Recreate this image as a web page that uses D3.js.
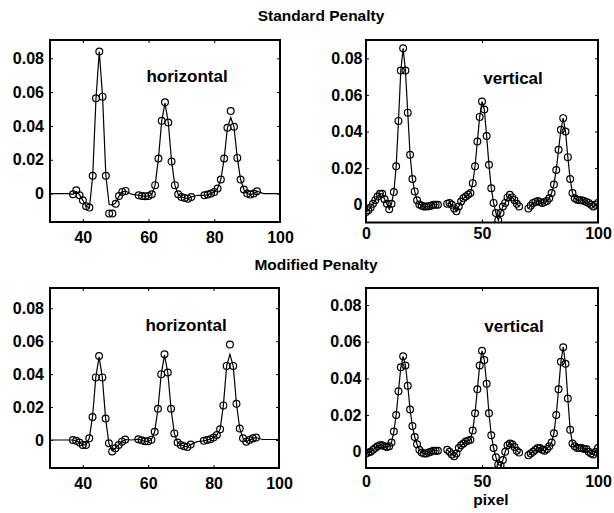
<!DOCTYPE html>
<html>
<head>
<meta charset="utf-8">
<script src="https://cdn.jsdelivr.net/npm/d3@7"></script>
<style>
  body { margin: 0; background: #fff; }
  text { font-family: "Liberation Sans", Arial, Helvetica, sans-serif; font-weight: bold; fill: #000; }
</style>
</head>
<body>
<script>
// pixel index where each run of measured points starts
let horizStarts = [37, 57, 77];
let vertStarts  = [0, 35, 70];

// Standard penalty, horizontal profile (circles)
let stdHorizY = [
  [-0.0004, 0.002, -0.001, -0.004, -0.0075, -0.0083, 0.0105, 0.0563, 0.084, 0.0573, 0.0105, -0.0118, -0.0118, -0.006, -0.0014, 0.001, 0.0016],
  [-0.001, -0.0014, -0.0016, -0.0014, -0.0004, 0.005, 0.0207, 0.043, 0.054, 0.042, 0.019, 0.005, -0.0004, -0.002, -0.0026, -0.003, -0.002],
  [-0.001, -0.0006, 0, 0.001, 0.003, 0.0083, 0.0207, 0.0389, 0.0488, 0.0395, 0.0211, 0.0083, 0.0024, 0, -0.0006, 0, 0.0014]
];
// fitted curve knots for the horizontal panels
let horizFitX = [30, 36, 37, 38, 39, 40, 41, 42, 43, 44, 45, 46, 47, 48, 49, 50, 51, 52, 53, 55,
  57, 58, 59, 60, 61, 62, 63, 64, 65, 66, 67, 68, 69, 70, 71, 72, 73, 75,
  77, 78, 79, 80, 81, 82, 83, 84, 85, 86, 87, 88, 89, 90, 91, 92, 93, 95, 100];
let stdHorizFitY = [0, 0, -0.0005, 0.0012, -0.0008, -0.004, -0.0075, -0.0083, 0.0105, 0.0563, 0.084, 0.0573, 0.0105, -0.0065, -0.0068, -0.0055, -0.0015, 0.001, 0.0015, -0.0005,
  -0.001, -0.0014, -0.0016, -0.0014, -0.0004, 0.005, 0.0207, 0.043, 0.0535, 0.042, 0.019, 0.005, -0.0004, -0.002, -0.0026, -0.003, -0.002, -0.001,
  -0.001, -0.0006, 0, 0.001, 0.003, 0.0083, 0.0207, 0.0389, 0.045, 0.0395, 0.0211, 0.0083, 0.0024, 0, -0.0006, 0, 0.0014, 0, 0];

// Standard penalty, vertical profile
let stdVertY = [
  [-0.004, -0.003, -0.0015, 0.0005, 0.0025, 0.0045, 0.006, 0.006, 0.003, 0.0005, -0.0025, 0.0005, 0.007, 0.021, 0.0458, 0.0733, 0.0855, 0.0733, 0.0503, 0.0273, 0.014, 0.0073, 0.0024, 0.0002, -0.0005, -0.001, -0.001, -0.0008, -0.0005, 0, 0, 0],
  [0.0005, 0.0009, 0, -0.002, -0.0036, -0.001, 0.0018, 0.0035, 0.0045, 0.0055, 0.0064, 0.0118, 0.021, 0.0345, 0.048, 0.0564, 0.052, 0.0375, 0.0218, 0.009, 0.001, -0.0045, -0.0085, -0.0045, -0.001, 0.001, 0.004, 0.0055, 0.004, 0.0025, 0.0005, -0.0009],
  [-0.002, -0.0005, 0.001, 0.0015, 0.002, 0.0015, 0.001, 0.0015, 0.002, 0.0035, 0.0064, 0.011, 0.019, 0.030, 0.041, 0.0473, 0.040, 0.026, 0.014, 0.0064, 0.0035, 0.0027, 0.0025, 0.0025, 0.002, 0.0015, 0.001, 0, -0.001, 0, 0.001]
];

// Modified penalty, horizontal profile
let modHorizY = [
  [0, -0.0005, -0.0015, -0.003, -0.003, 0.001, 0.014, 0.038, 0.051, 0.038, 0.013, -0.002, -0.007, -0.005, -0.003, -0.001, 0.0003],
  [0.0005, -0.0002, -0.0008, -0.0008, 0.0002, 0.005, 0.019, 0.040, 0.052, 0.041, 0.019, 0.004, -0.0015, -0.003, -0.0038, -0.0042, -0.0028],
  [-0.0005, 0, 0.0005, 0.0015, 0.003, 0.0065, 0.021, 0.045, 0.058, 0.045, 0.022, 0.007, 0.001, -0.001, 0, 0.001, 0.0015]
];
let modHorizFitY = [0, 0, 0, -0.0005, -0.0015, -0.003, -0.003, 0.001, 0.014, 0.038, 0.0505, 0.038, 0.013, -0.002, -0.0065, -0.005, -0.003, -0.001, 0.0003, 0,
  0.0005, -0.0002, -0.0008, -0.0008, 0.0002, 0.005, 0.019, 0.040, 0.0515, 0.041, 0.019, 0.004, -0.0015, -0.003, -0.0038, -0.0042, -0.0028, -0.001,
  -0.0005, 0, 0.0005, 0.0015, 0.003, 0.0065, 0.021, 0.045, 0.052, 0.045, 0.022, 0.007, 0.001, -0.001, 0, 0.001, 0.0015, 0.0003, 0.0003];

// Modified penalty, vertical profile
let modVertY = [
  [-0.001, -0.0005, 0, 0.001, 0.002, 0.003, 0.0035, 0.0035, 0.003, 0.0025, 0.003, 0.005, 0.011, 0.020, 0.033, 0.046, 0.052, 0.047, 0.036, 0.023, 0.014, 0.008, 0.004, 0.001, -0.0005, -0.001, -0.001, -0.0005, 0, 0.0005, 0.0005, 0.0005],
  [0.001, 0, -0.0015, -0.0025, -0.001, 0.002, 0.0035, 0.0045, 0.0055, 0.006, 0.0065, 0.0115, 0.021, 0.034, 0.047, 0.055, 0.050, 0.037, 0.021, 0.009, 0.002, -0.003, -0.007, -0.0075, -0.0045, 0, 0.0035, 0.0045, 0.004, 0.0025, 0.0005, -0.0005],
  [-0.002, -0.001, 0, 0.001, 0.002, 0.002, 0.001, 0.0005, 0.0015, 0.003, 0.005, 0.010, 0.020, 0.034, 0.049, 0.057, 0.048, 0.029, 0.012, 0.0045, 0.003, 0.002, 0.002, 0.002, 0.0015, 0.0015, 0, -0.001, -0.0015, 0, 0.002]
];

let yTickVals = [0, 0.02, 0.04, 0.06, 0.08];
let horizXTicks = [40, 60, 80, 100];
let vertXTicks = [0, 50, 100];

let size = {width: 614, height: 513};
let svg = d3.select("body").append("svg")
    .attr("width", size.width).attr("height", size.height);

let panels = [
  {x0: 50, x1: 280, y0: 40, y1: 222, xd: [30, 100], yd: [-0.0168, 0.0908], xt: horizXTicks,
   starts: horizStarts, ys: stdHorizY, fitX: horizFitX, fitY: stdHorizFitY,
   label: "horizontal", lx: 187, ly: 81.5, ypad: 6, xpad: 9.6},
  {x0: 366, x1: 598, y0: 40, y1: 222.5, xd: [0, 100], yd: [-0.0097, 0.09], xt: vertXTicks,
   starts: vertStarts, ys: stdVertY,
   label: "vertical", lx: 513, ly: 84, ypad: 3.5, xpad: 5.5},
  {x0: 50, x1: 279, y0: 288, y1: 468, xd: [30, 100], yd: [-0.017, 0.0923], xt: horizXTicks,
   starts: horizStarts, ys: modHorizY, fitX: horizFitX, fitY: modHorizFitY,
   label: "horizontal", lx: 186, ly: 330.5, ypad: 6, xpad: 10},
  {x0: 366, x1: 598, y0: 288, y1: 468, xd: [0, 100], yd: [-0.0089, 0.0893], xt: vertXTicks,
   starts: vertStarts, ys: modVertY,
   label: "vertical", lx: 514, ly: 331.5, ypad: 4.5, xpad: 8}
];

let fmt = d => d === 0 ? "0" : d3.format(".2f")(d);

panels.forEach((p, k) => {
  let x = d3.scaleLinear().domain(p.xd).range([p.x0, p.x1]);
  let y = d3.scaleLinear().domain(p.yd).range([p.y1, p.y0]);
  let g = svg.append("g").attr("class", "panel" + k);
  let clipId = "clip" + k;
  g.append("clipPath").attr("id", clipId).append("rect")
    .attr("x", p.x0).attr("y", p.y0).attr("width", p.x1 - p.x0).attr("height", p.y1 - p.y0);

  // axes, ticks pointing inward
  g.append("g").attr("transform", `translate(${p.x0},0)`)
    .call(d3.axisLeft(y).tickValues(yTickVals).tickSize(-3).tickPadding(p.ypad).tickFormat(fmt));
  g.append("g").attr("transform", `translate(0,${p.y1})`)
    .call(d3.axisBottom(x).tickValues(p.xt).tickSize(-3).tickPadding(p.xpad));
  g.append("g").attr("transform", `translate(${p.x1},0)`)
    .call(d3.axisRight(y).tickValues(yTickVals).tickSize(-3).tickFormat(""));
  g.append("g").attr("transform", `translate(0,${p.y0})`)
    .call(d3.axisTop(x).tickValues(p.xt).tickSize(-3).tickFormat(""));
  g.selectAll(".domain").remove();
  g.selectAll(".tick line").attr("stroke", "#000").attr("stroke-width", 1);
  g.selectAll(".tick text").style("font-size", "16px")
    .style("font-family", "'Liberation Sans', Arial, sans-serif").style("font-weight", "bold");

  let plot = g.append("g").attr("clip-path", `url(#${clipId})`);
  let line = d3.line().x(d => x(d[0])).y(d => y(d[1]));

  if (p.fitX) {
    plot.append("path").datum(p.fitX.map((v, i) => [v, p.fitY[i]]))
      .attr("d", line).attr("fill", "none").attr("stroke", "#000").attr("stroke-width", 1.2);
  }
  p.ys.forEach((vals, gi) => {
    let pts = vals.map((v, i) => [p.starts[gi] + i, v]);
    if (!p.fitX) {
      plot.append("path").datum(pts).attr("d", line)
        .attr("fill", "none").attr("stroke", "#000").attr("stroke-width", 1.2);
    }
    plot.selectAll(null).data(pts).join("circle")
      .attr("cx", d => x(d[0])).attr("cy", d => y(d[1])).attr("r", 3.4)
      .attr("fill", "none").attr("stroke", "#000").attr("stroke-width", 1.2);
  });

  g.append("rect").attr("x", p.x0).attr("y", p.y0)
    .attr("width", p.x1 - p.x0).attr("height", p.y1 - p.y0)
    .attr("fill", "none").attr("stroke", "#000").attr("stroke-width", 2);

  g.append("text").attr("x", p.lx).attr("y", p.ly).attr("text-anchor", "middle")
    .style("font-size", "17px").text(p.label);
});

svg.append("text").attr("x", 321).attr("y", 21).attr("text-anchor", "middle")
  .style("font-size", "15.5px").text("Standard Penalty");
svg.append("text").attr("x", 316).attr("y", 270).attr("text-anchor", "middle")
  .style("font-size", "15.5px").text("Modified Penalty");
svg.append("text").attr("x", 491).attr("y", 505).attr("text-anchor", "middle")
  .style("font-size", "15.5px").text("pixel");
</script>
</body>
</html>
